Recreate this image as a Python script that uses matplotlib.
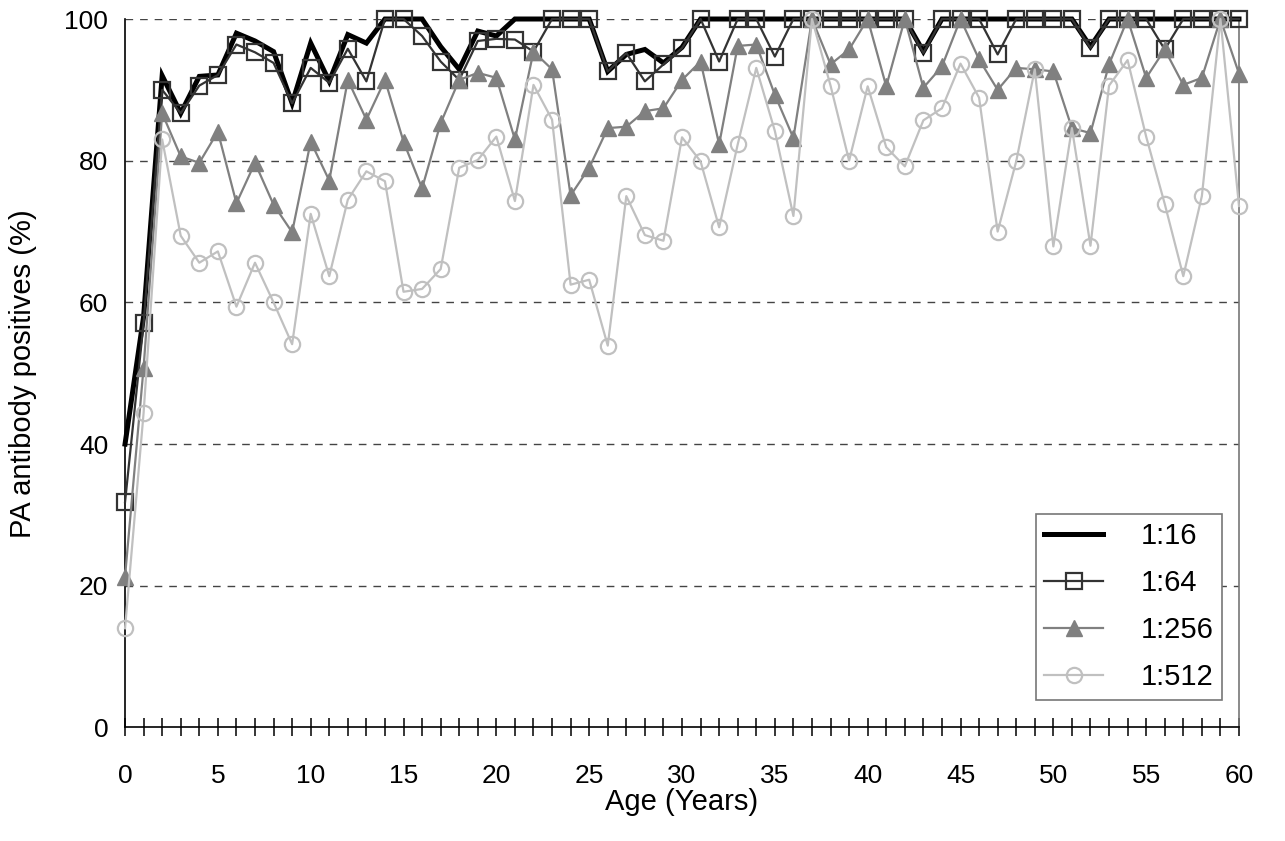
import matplotlib
matplotlib.use("Agg")
import matplotlib.pyplot as plt
import numpy as np

plt.rcParams['font.family'] = ['Liberation Sans', 'DejaVu Sans']

age = list(range(0, 61))

pos_1_16 = [40, 58, 92, 86.7, 91.9, 92.1, 98, 96.9, 95.4, 88.1,
            96.6, 91.2, 97.8, 96.6, 100, 100, 100, 96.1, 92.9, 98.3,
            97.6, 100, 100, 100, 100, 100, 92.6, 95, 95.7, 93.8,
            96, 100, 100, 100, 100, 100, 100, 100, 100, 100,
            100, 100, 100, 95.4, 100, 100, 100, 100, 100, 100,
            100, 100, 96.1, 100, 100, 100, 100, 100, 100, 100,
            100]

pos_1_64 = [31.8, 57.1, 90, 86.7, 90.6, 92.1, 96.4, 95.3, 93.8, 88.1,
            93.1, 91, 95.8, 91.2, 100, 100, 97.6, 94, 91.4, 96.9,
            97.2, 97.1, 95.4, 100, 100, 100, 92.6, 95.2, 91.2, 93.6,
            95.9, 100, 94, 100, 100, 94.7, 100, 100, 100, 100,
            100, 100, 100, 95.2, 100, 100, 100, 95, 100, 100,
            100, 100, 95.9, 100, 100, 100, 95.7, 100, 100, 100,
            100]

pos_1_256 = [21.3, 50.8, 86.7, 80.6, 79.7, 84.1, 74, 79.7, 73.8, 69.9,
             82.7, 77.2, 91.4, 85.8, 91.4, 82.7, 76.1, 85.3, 91.4, 92.4,
             91.7, 83, 95.4, 92.9, 75.1, 79, 84.6, 84.8, 87, 87.4,
             91.4, 94, 82.3, 96.2, 96.4, 89.3, 83.2, 100, 93.6, 95.7,
             100, 90.5, 100, 90.3, 93.3, 100, 94.3, 90, 93.1, 92.9,
             92.6, 84.6, 83.9, 93.6, 100, 91.7, 95.7, 90.7, 91.7, 100,
             92.3]

pos_1_512 = [14, 44.4, 83, 69.4, 65.6, 67.2, 59.4, 65.6, 60, 54.1,
             72.5, 63.7, 74.5, 78.5, 77.1, 61.5, 61.9, 64.7, 79, 80.1,
             83.4, 74.3, 90.7, 85.8, 62.5, 63.2, 53.9, 75, 69.5, 68.7,
             83.3, 79.9, 70.6, 82.3, 93.1, 84.2, 72.2, 100, 90.6, 80,
             90.5, 81.9, 79.2, 85.7, 87.4, 93.7, 88.9, 70, 79.9, 92.9,
             67.9, 84.6, 68, 90.6, 94.2, 83.4, 73.9, 63.7, 75, 100,
             73.6]

fs = 19
label_fs = 21

fig = plt.figure(figsize=(12.85, 8.41), dpi=100)
plt.subplots_adjust(left=0.0973, right=0.9642, top=0.9774, bottom=0.135)
ax = fig.add_subplot(111)

for y in [20, 40, 60, 80, 100]:
	ax.axhline(y, color="#444444", linewidth=1, dashes=(5.5, 5), zorder=1)

ax.plot(age, pos_1_16, color="black", linewidth=3.6, label="1:16",
	zorder=3, clip_on=False, solid_joinstyle="miter")
ax.plot(age, pos_1_64, color="#333333", linewidth=1.6, marker="s",
	markersize=11, markerfacecolor="none", markeredgecolor="#333333",
	markeredgewidth=1.6, label="1:64", zorder=4, clip_on=False)
ax.plot(age, pos_1_256, color="#808080", linewidth=1.6, marker="^",
	markersize=12, markerfacecolor="#808080", markeredgecolor="#808080",
	label="1:256", zorder=5, clip_on=False)
ax.plot(age, pos_1_512, color="#c0c0c0", linewidth=1.6, marker="o",
	markersize=11, markerfacecolor="none", markeredgecolor="#c0c0c0",
	markeredgewidth=1.6, label="1:512", zorder=6, clip_on=False)

ax.set_xlim(0, 60)
ax.set_ylim(0, 100)

ax.spines["top"].set_visible(False)
ax.spines["right"].set_color("#777777")
ax.spines["right"].set_linewidth(1.2)
ax.spines["left"].set_linewidth(1.2)
ax.spines["bottom"].set_linewidth(1.2)

ax.set_xticks(np.arange(0, 61, 5))
ax.set_xticks(np.arange(0, 61, 1), minor=True)
ax.set_yticks(np.arange(0, 101, 20))
ax.tick_params(axis="x", which="both", direction="inout", length=13, width=1.1, labelsize=fs, pad=20)
ax.tick_params(axis="y", which="both", length=0, labelsize=fs, pad=12)

ax.set_xlabel("Age (Years)", fontsize=label_fs, labelpad=0)
ax.set_ylabel("PA antibody positives (%)", fontsize=label_fs, labelpad=20)

leg = ax.legend(loc="lower right", bbox_to_anchor=(0.985, 0.0387), fontsize=21,
	fancybox=False, edgecolor="#777777", framealpha=1, handlelength=2.0,
	handletextpad=1.3, labelspacing=0.65, borderpad=0.3, borderaxespad=0)
leg.get_frame().set_linewidth(1.2)

plt.savefig("out.png", dpi=100)
plt.close()
